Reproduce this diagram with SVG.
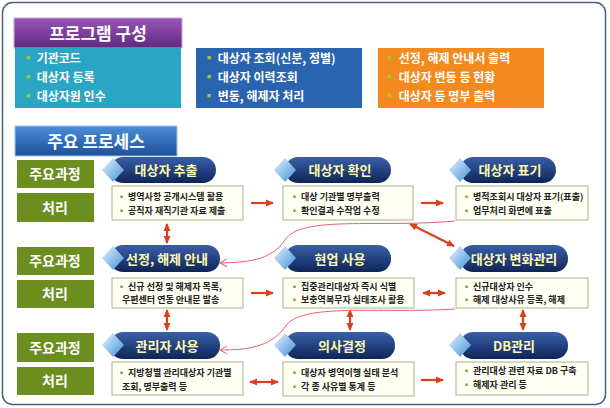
<svg xmlns="http://www.w3.org/2000/svg" width="610" height="408" viewBox="0 0 610 408">
<defs>
<linearGradient id="gp" x1="0" y1="0" x2="0" y2="1"><stop offset="0" stop-color="#9a55b8"/><stop offset="1" stop-color="#5e2a7e"/></linearGradient>
<linearGradient id="gb" x1="0" y1="0" x2="0" y2="1"><stop offset="0" stop-color="#4a8fd8"/><stop offset="1" stop-color="#1f4f9a"/></linearGradient>
<linearGradient id="gpill" x1="0" y1="0" x2="0" y2="1"><stop offset="0" stop-color="#3a5fa8"/><stop offset="1" stop-color="#0f2557"/></linearGradient>
<linearGradient id="gd" x1="0" y1="0" x2="1" y2="1"><stop offset="0" stop-color="#e8f4ff"/><stop offset="1" stop-color="#3f8fd8"/></linearGradient>
<marker id="ah" markerWidth="8" markerHeight="8" refX="7" refY="4" orient="auto-start-reverse" markerUnits="userSpaceOnUse"><path d="M0,0.5 L8,4 L0,7.5 z" fill="#d9401e"/></marker>
<marker id="ta" markerWidth="8" markerHeight="8" refX="7" refY="4" orient="auto" markerUnits="userSpaceOnUse"><path d="M0,0 L7,4 L0,8" fill="none" stroke="#e8606a" stroke-width="1"/></marker>
</defs>
<style>
text{font-family:"Noto Sans CJK KR","Noto Sans",sans-serif;font-weight:bold}
.t{font-size:12px;fill:#fff}
.h{font-size:17px;fill:#fff}
.g{fill:#6b8e1e}
.gl{font-size:14px;fill:#fff}
.pill{fill:url(#gpill)}
.pt{font-size:13px;fill:#fff9b0}
.box{fill:#fffff4;stroke:#a9b48a;stroke-width:1}
.bt{font-size:9px;fill:#222}
.ar{stroke:#d9401e;stroke-width:2.2;fill:none}
.cv{stroke:#e8606a;stroke-width:1;fill:none}
</style>
<rect x="2.5" y="2.5" width="603" height="402" rx="10" fill="#fff" stroke="#4a5f80" stroke-width="1.5"/>
<g id="title1"><rect x="14" y="18" width="168" height="30" fill="url(#gp)" stroke="#c9a8dc"/><text x="98" y="40" text-anchor="middle" class="h">프로그램 구성</text></g>
<g id="prog1"><rect x="15" y="48" width="166" height="60" fill="#2aa6c4"/>
<text class="t" x="22" y="63"><tspan fill="#9c3">▪</tspan> 기관코드</text><text class="t" x="22" y="82"><tspan fill="#9c3">▪</tspan> 대상자 등록</text><text class="t" x="22" y="101"><tspan fill="#9c3">▪</tspan> 대상자원 인수</text></g>
<g id="prog2"><rect x="196" y="48" width="166" height="60" fill="#2b64ae"/>
<text class="t" x="203" y="63"><tspan fill="#9c3">▪</tspan> 대상자 조회(신분, 정별)</text><text class="t" x="203" y="82"><tspan fill="#9c3">▪</tspan> 대상자 이력조회</text><text class="t" x="203" y="101"><tspan fill="#9c3">▪</tspan> 변동, 해제자 처리</text></g>
<g id="prog3"><rect x="378" y="48" width="166" height="60" fill="#f38a1e"/>
<text class="t" x="384" y="63"><tspan fill="#9c3">▪</tspan> 선정, 해제 안내서 출력</text><text class="t" x="384" y="82"><tspan fill="#9c3">▪</tspan> 대상자 변동 등 현황</text><text class="t" x="384" y="101"><tspan fill="#9c3">▪</tspan> 대상자 등 명부 출력</text></g>
<g id="title2"><rect x="15" y="126" width="162" height="30" fill="url(#gb)" stroke="#9cc4ec"/><text x="96" y="148" text-anchor="middle" class="h">주요 프로세스</text></g>
<g id="labels">
<rect class="g" x="17" y="160" width="77" height="28"/><text class="gl" x="55" y="179" text-anchor="middle">주요과정</text>
<rect class="g" x="17" y="193" width="77" height="29"/><text class="gl" x="55" y="213" text-anchor="middle">처리</text>
<rect class="g" x="17" y="247" width="77" height="28"/><text class="gl" x="55" y="266" text-anchor="middle">주요과정</text>
<rect class="g" x="17" y="280" width="77" height="28"/><text class="gl" x="55" y="299" text-anchor="middle">처리</text>
<rect class="g" x="17" y="333" width="77" height="29"/><text class="gl" x="55" y="353" text-anchor="middle">주요과정</text>
<rect class="g" x="17" y="367" width="77" height="28"/><text class="gl" x="55" y="386" text-anchor="middle">처리</text>
</g>
<g id="n1"><rect x="110" y="157" width="106" height="26" rx="13" class="pill"/><path d="M113,158 L124,170 L113,182 L102,170 z" fill="url(#gd)"/><text class="pt" x="166" y="175" text-anchor="middle">대상자 추출</text>
<rect class="box" x="112" y="186" width="131" height="34"/><text class="bt" x="117" y="200"><tspan fill="#7a3">▪</tspan> 병역사항 공개시스템 활용</text><text class="bt" x="117" y="214"><tspan fill="#7a3">▪</tspan> 공직자 재직기관 자료 제출</text></g>
<g id="n2"><rect x="285" y="157" width="106" height="26" rx="13" class="pill"/><path d="M285,158 L296,170 L285,182 L274,170 z" fill="url(#gd)"/><text class="pt" x="340" y="175" text-anchor="middle">대상자 확인</text>
<rect class="box" x="283" y="186" width="130" height="34"/><text class="bt" x="290" y="200"><tspan fill="#7a3">▪</tspan> 대상 기관별 명부출력</text><text class="bt" x="290" y="214"><tspan fill="#7a3">▪</tspan> 확인결과 수작업 수정</text></g>
<g id="n3"><rect x="460" y="157" width="96" height="26" rx="13" class="pill"/><path d="M460,158 L471,170 L460,182 L449,170 z" fill="url(#gd)"/><text class="pt" x="510" y="175" text-anchor="middle">대상자 표기</text>
<rect class="box" x="456" y="186" width="132" height="34"/><text class="bt" x="462" y="200"><tspan fill="#7a3">▪</tspan> 병적조회시 대상자 표기(표출)</text><text class="bt" x="462" y="214"><tspan fill="#7a3">▪</tspan> 업무처리 화면에 표출</text></g>
<g id="n4"><rect x="110" y="245" width="110" height="27" rx="13" class="pill"/><path d="M113,246 L124,258 L113,270 L102,258 z" fill="url(#gd)"/><text class="pt" x="167" y="264" text-anchor="middle">선정, 해제 안내</text>
<rect class="box" x="112" y="278" width="131" height="30"/><text class="bt" x="117" y="290"><tspan fill="#7a3">▪</tspan> 신규 선정 및 해제자 목록,</text><text class="bt" x="122" y="303">우편센터 연동 안내문 발송</text></g>
<g id="n5"><rect x="285" y="245" width="106" height="27" rx="13" class="pill"/><path d="M285,246 L296,258 L285,270 L274,258 z" fill="url(#gd)"/><text class="pt" x="340" y="264" text-anchor="middle">현업 사용</text>
<rect class="box" x="283" y="278" width="131" height="30"/><text class="bt" x="290" y="290"><tspan fill="#7a3">▪</tspan> 집중관리대상자 즉시 식별</text><text class="bt" x="290" y="303"><tspan fill="#7a3">▪</tspan> 보충역복무자 실태조사 활용</text></g>
<g id="n6"><rect x="460" y="245" width="108" height="27" rx="13" class="pill"/><path d="M460,246 L471,258 L460,270 L449,258 z" fill="url(#gd)"/><text class="pt" x="514" y="264" text-anchor="middle">대상자 변화관리</text>
<rect class="box" x="456" y="278" width="132" height="30"/><text class="bt" x="462" y="290"><tspan fill="#7a3">▪</tspan> 신규대상자 인수</text><text class="bt" x="462" y="303"><tspan fill="#7a3">▪</tspan> 해제 대상사유 등록, 해제</text></g>
<g id="n7"><rect x="110" y="332" width="110" height="27" rx="13" class="pill"/><path d="M113,333 L124,345 L113,357 L102,345 z" fill="url(#gd)"/><text class="pt" x="167" y="351" text-anchor="middle">관리자 사용</text>
<rect class="box" x="112" y="362" width="131" height="33"/><text class="bt" x="117" y="376"><tspan fill="#7a3">▪</tspan> 지방청별 관리대상자 기관별</text><text class="bt" x="122" y="390">조회, 명부출력 등</text></g>
<g id="n8"><rect x="285" y="332" width="110" height="27" rx="13" class="pill"/><path d="M285,333 L296,345 L285,357 L274,345 z" fill="url(#gd)"/><text class="pt" x="342" y="351" text-anchor="middle">의사결정</text>
<rect class="box" x="283" y="362" width="131" height="34"/><text class="bt" x="290" y="376"><tspan fill="#7a3">▪</tspan> 대상자 병역이행 실태 분석</text><text class="bt" x="290" y="390"><tspan fill="#7a3">▪</tspan> 각 종 사유별 통계 등</text></g>
<g id="n9"><rect x="460" y="332" width="108" height="27" rx="13" class="pill"/><path d="M460,333 L471,345 L460,357 L449,345 z" fill="url(#gd)"/><text class="pt" x="514" y="351" text-anchor="middle">DB관리</text>
<rect class="box" x="456" y="362" width="132" height="33"/><text class="bt" x="462" y="374"><tspan fill="#7a3">▪</tspan> 관리대상 관련 자료 DB 구축</text><text class="bt" x="462" y="388"><tspan fill="#7a3">▪</tspan> 해제자 관리 등</text></g>
<g id="connectors">
<path class="ar" d="M251,203 H273" marker-end="url(#ah)"/>
<path class="ar" d="M421,203 H443" marker-end="url(#ah)"/>
<path class="ar" d="M167,224 V243" marker-start="url(#ah)" marker-end="url(#ah)"/>
<path class="ar" d="M410,224 L454,246" marker-start="url(#ah)" marker-end="url(#ah)"/>
<path class="ar" d="M251,293 H273" marker-end="url(#ah)"/>
<path class="ar" d="M423,293 H445" marker-start="url(#ah)" marker-end="url(#ah)"/>
<path class="ar" d="M167,310 V330" marker-start="url(#ah)" marker-end="url(#ah)"/>
<path class="ar" d="M350,310 V330" marker-start="url(#ah)" marker-end="url(#ah)"/>
<path class="ar" d="M523,310 V330" marker-start="url(#ah)" marker-end="url(#ah)"/>
<path class="ar" d="M250,382 H278" marker-start="url(#ah)" marker-end="url(#ah)"/>
<path class="ar" d="M421,380 H443" marker-end="url(#ah)"/>
<path class="cv" d="M455,221 C380,228 300,215 285,240 C270,262 245,262 220,263" marker-end="url(#ta)"/>
<path class="cv" d="M455,309 C380,314 300,302 285,327 C270,348 245,350 220,350" marker-end="url(#ta)"/>
</g>
</svg>
